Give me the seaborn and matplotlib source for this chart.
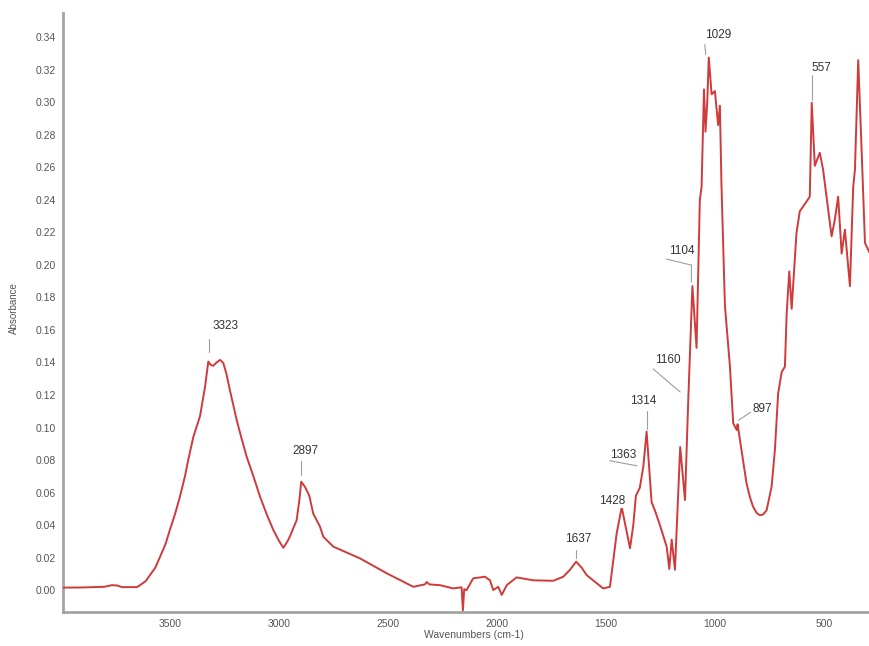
import numpy as np
import pandas as pd
import matplotlib
matplotlib.use("Agg")
import matplotlib.pyplot as plt
from matplotlib.lines import Line2D
from matplotlib.transforms import IdentityTransform
import seaborn as sns

# FTIR absorbance spectrum (wavenumber in cm-1, descending)
wavenumber = [3989, 3900, 3800, 3765, 3740, 3719, 3650, 3636, 3610, 3590, 3565, 3544,
              3520, 3499, 3475, 3453, 3430, 3415, 3392, 3361, 3338, 3323, 3312, 3300,
              3285, 3269, 3254, 3240, 3224, 3193, 3170, 3147, 3115, 3086, 3055, 3025,
              3000, 2979, 2960, 2949, 2918, 2905, 2897, 2880, 2860,
              2842, 2811, 2796, 2750, 2628, 2505, 2383, 2330, 2322, 2310,
              2261, 2200, 2162, 2156, 2150, 2139, 2109, 2055, 2032, 2017,
              1994, 1978, 1955, 1910, 1834, 1742, 1696, 1665, 1637, 1610, 1589, 1513,
              1482, 1451, 1428, 1390, 1375, 1363, 1345, 1329, 1314, 1291,
              1276, 1253, 1222, 1210, 1199, 1184, 1160, 1138, 1123, 1112,
              1104, 1085, 1070, 1062, 1051, 1044, 1036, 1029, 1016, 1001,
              986, 978, 971, 955, 932, 917, 901, 897, 879, 856,
              840, 826, 810, 795, 780, 764, 741, 726, 711, 695, 680, 672, 660,
              649, 627, 612, 581, 566, 557, 543, 520, 505, 466,
              451, 436, 420, 405, 382, 367, 359, 344, 328, 313,
              290]
absorbance = [0.0015, 0.0016, 0.0020, 0.0030, 0.0028, 0.0018, 0.0018, 0.0030, 0.0055, 0.0092, 0.0140, 0.0205,
              0.0280, 0.0370, 0.0470, 0.0575, 0.0700, 0.0800, 0.0940, 0.1070, 0.1250, 0.1406, 0.1385, 0.1380,
              0.1400, 0.1416, 0.1396, 0.1330, 0.1230, 0.1047, 0.0930, 0.0820, 0.0695, 0.0575, 0.0465, 0.0370,
              0.0305, 0.0260, 0.0300, 0.0330, 0.0430, 0.0560, 0.0667, 0.0635, 0.0580,
              0.0470, 0.0390, 0.0328, 0.0267, 0.0195, 0.0103, 0.0020, 0.0035, 0.0050, 0.0035,
              0.0030, 0.0010, 0.0017, -0.0125, 0.0005, 0.0000, 0.0072, 0.0082, 0.0060, 0.0000,
              0.0020, -0.0030, 0.0030, 0.0078, 0.0060, 0.0057, 0.0082, 0.0125, 0.0175, 0.0135, 0.0092, 0.0010,
              0.0020, 0.0350, 0.0510, 0.0257, 0.0400, 0.0580, 0.0630, 0.0760, 0.0975, 0.0540,
              0.0490, 0.0400, 0.0267, 0.0130, 0.0310, 0.0125, 0.0880, 0.0554, 0.1170, 0.1580,
              0.1870, 0.1490, 0.2400, 0.2480, 0.3080, 0.2820, 0.3000, 0.3276, 0.3050, 0.3070,
              0.2860, 0.2980, 0.2500, 0.1750, 0.1375, 0.1026, 0.0985, 0.1020, 0.0860, 0.0657,
              0.0570, 0.0513, 0.0475, 0.0460, 0.0465, 0.0490, 0.0636, 0.0860, 0.1210, 0.1340, 0.1375, 0.1700, 0.1960,
              0.1730, 0.2196, 0.2330, 0.2390, 0.2420, 0.2998, 0.2610, 0.2690, 0.2586, 0.2176,
              0.2280, 0.2420, 0.2070, 0.2217, 0.1870, 0.2480, 0.2586, 0.3260, 0.2690, 0.2135,
              0.2070]

# Labelled bands
peak_labels = ["3323", "2897", "1637", "1428", "1363", "1314",
               "1160", "1104", "1029", "897", "557"]

# Label placement in pixels relative to the band (x right, y down)
text_offsets = [(17, -36), (4, -31), (2, -23), (-10, -6), (-13, -41), (-3, -31),
                (-12, -87), (-11, -35), (9, -23), (25, -15), (10, -35)]
leader_paths = [[(1, -23), (1, -10)],
                [(0, -21), (0, -7)],
                [(0, -12), (0, -4)],
                [],
                [(-26, -35), (1, -30)],
                [(0, -21), (0, -3)],
                [(-27, -78), (0, -55)],
                [(-26, -27), (-1, -21), (-1, -4)],
                [(-4, -13), (-3, -3)],
                [(1, -4), (13, -12)],
                [(0, -28), (0, -3)]]

y_ticks = [round(0.02 * i, 2) for i in range(18)]
x_ticks = [3500, 3000, 2500, 2000, 1500, 1000, 500]

df = pd.DataFrame({"Wavenumbers (cm-1)": wavenumber, "Absorbance": absorbance})

sns.set_theme(style="white")
plt.rcParams["font.family"] = ["Liberation Sans", "DejaVu Sans"]

W, H = 870, 646
fig = plt.figure(figsize=(W / 100, H / 100), dpi=100)
ax = fig.add_axes([63 / W, 1 - 612 / H, (W - 63) / W, (612 - 13) / H])

sns.lineplot(data=df, x="Wavenumbers (cm-1)", y="Absorbance", ax=ax,
             color="#cf3a3a", linewidth=1.4, estimator=None, sort=True, zorder=3)

ax.set_xlim(3989, 290)
ax.set_ylim(-0.0135, 0.355)
ax.set_xticks(x_ticks)
ax.set_yticks(y_ticks)
ax.set_yticklabels([f"{v:.2f}" for v in y_ticks])

spine_col = "#a3a3a3"
for side in ["top", "right"]:
    ax.spines[side].set_visible(False)
for side in ["left", "bottom"]:
    ax.spines[side].set_color(spine_col)
    ax.spines[side].set_linewidth(2.0)

ax.tick_params(axis="both", which="major", direction="out", length=3, width=0.8,
               color=spine_col, labelsize=7.5, labelcolor="#555555", pad=2)
ax.tick_params(axis="x", pad=2)

ax.set_xlabel("Wavenumbers (cm-1)", fontsize=7.5, color="#555555")
ax.set_ylabel("Absorbance", fontsize=7, color="#555555")
ax.xaxis.set_label_coords(0.509, -0.030)
ax.yaxis.set_label_coords(-0.055, 0.507)

# Band labels with leader lines
w_inc = np.array(wavenumber[::-1], dtype=float)
a_inc = np.array(absorbance[::-1], dtype=float)
for lab, (tx, ty), path in zip(peak_labels, text_offsets, leader_paths):
    w = float(lab)
    a = float(np.interp(w, w_inc, a_inc))
    ax.annotate(lab, xy=(w, a), xycoords="data", xytext=(tx, -ty),
                textcoords="offset pixels", ha="center", va="center",
                fontsize=8.5, color="#333333", zorder=5,
                bbox=dict(boxstyle="square,pad=0.05", fc="white", ec="none"))
    if path:
        bx, by = ax.transData.transform((w, a))
        xs = [bx + dx for dx, dy in path]
        ys = [by - dy for dx, dy in path]
        fig.add_artist(Line2D(xs, ys, transform=IdentityTransform(),
                              color="#9e9e9e", linewidth=0.8, zorder=4))

fig.savefig("out.png", dpi=100, facecolor="white")
